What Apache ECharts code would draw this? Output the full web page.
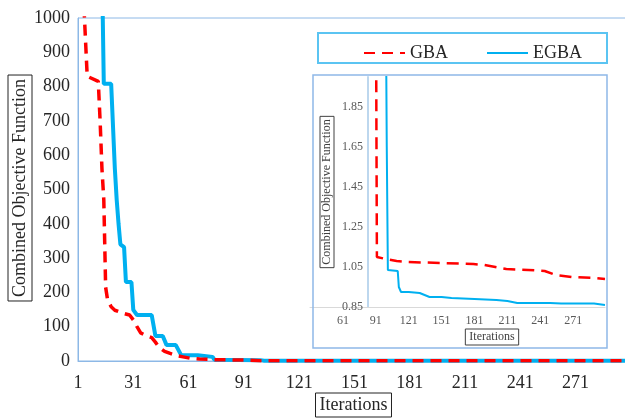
<!DOCTYPE html>
<html>
<head>
<meta charset="utf-8">
<script src="https://cdn.jsdelivr.net/npm/echarts@6/dist/echarts.min.js"></script>
<style>
  html, body { margin:0; padding:0; background:#fff; }
  #chart { width:625px; height:419px; }
</style>
</head>
<body>
<div id="chart"></div>
<script>
// ---------- data ----------
const gbaIter = [1, 6, 12, 13, 14, 15, 16, 17, 19, 21, 25, 29, 31, 33, 35, 38, 41, 43, 45, 48, 51, 55, 58, 62, 67, 75, 87, 91,
  92, 100, 110, 120, 150, 180, 190, 200, 210, 230, 245, 255, 270, 290, 300];
const gbaVal = [1400, 830, 815, 700, 560, 470, 215, 180, 158, 148, 140, 134, 120, 100, 82, 74, 68, 55, 40, 28, 22, 15, 12, 8, 6, 4, 3, 2.6,
  1.10, 1.09, 1.08, 1.075, 1.07, 1.065, 1.06, 1.05, 1.04, 1.035, 1.03, 1.01, 1.0, 0.995, 0.99];

const egbaIter = [1, 13, 15, 19, 21, 22, 23, 24, 26, 27, 30, 31, 33, 41, 43, 47, 49, 54, 57, 66, 74, 75, 88, 100,
  101, 102, 111, 112, 114, 121, 131, 140, 151, 160, 181, 201, 211, 220, 250, 260, 290, 300];
const egbaVal = [3000, 1500, 808, 808, 560, 470, 400, 340, 332, 230, 230, 149, 134, 134, 73, 73, 47, 47, 17, 17, 12, 4, 3.2, 2.5,
  1.65, 1.035, 1.03, 0.95, 0.925, 0.925, 0.92, 0.90, 0.90, 0.895, 0.89, 0.885, 0.88, 0.87, 0.87, 0.868, 0.867, 0.86];

const mainXTicks = { min: 1, max: 300, interval: 30 };
const mainYTicks = { min: 0, max: 1000, interval: 100 };
const insetXTicks = { min: 31, max: 300, interval: 30 };
const insetYTicks = { min: 0.85, max: 2.0, interval: 0.2 };

// ---------- helpers ----------
const pairs = (xs, ys) => xs.map((x, i) => [x, ys[i]]);
const RED = '#ff0000', BLUE = '#00b0f0';
const SERIF = 'Liberation Serif';
const TXT = '#262626';

const chart = echarts.init(document.getElementById('chart'), null, { renderer: 'canvas' });

chart.setOption({
  animation: false,
  textStyle: { fontFamily: SERIF },
  legend: {
    left: 358, top: 39,
    itemWidth: 41, itemHeight: 14, itemGap: 38,
    itemStyle: { opacity: 0 },
    textStyle: { fontFamily: SERIF, fontSize: 18, color: TXT },
    data: ['GBA', 'EGBA']
  },
  grid: [
    { left: 78, top: 18, right: -4, bottom: 58, outerBoundsMode: 'none', containLabel: false,
      show: true, borderColor: '#8db8e6', borderWidth: 1 },
    { left: 310, top: 77, right: 20, bottom: 112, outerBoundsMode: 'none', containLabel: false }
  ],
  xAxis: [
    {
      type: 'value', gridIndex: 0, ...mainXTicks,
      splitLine: { show: false }, axisTick: { show: false },
      axisLine: { lineStyle: { color: '#8db8e6' } },
      axisLabel: { fontFamily: SERIF, fontSize: 18, color: TXT, margin: 13, showMaxLabel: false },
      name: 'Iterations', nameLocation: 'middle', nameGap: 32, nameMoveOverlap: false,
      nameTextStyle: { fontFamily: SERIF, fontSize: 18, color: TXT, borderColor: '#222', borderWidth: 1, padding: [3, 4, 3, 4] }
    },
    {
      type: 'value', gridIndex: 1, ...insetXTicks,
      splitLine: { show: false }, axisTick: { show: false },
      axisLine: { lineStyle: { color: '#d9d9d9', width: 1 } },
      axisLabel: { fontFamily: SERIF, fontSize: 12, color: '#595959', margin: 8, showMinLabel: false, showMaxLabel: false }
    }
  ],
  yAxis: [
    {
      type: 'value', gridIndex: 0, ...mainYTicks,
      splitLine: { show: false }, axisTick: { show: false },
      axisLine: { show: true, lineStyle: { color: '#8db8e6' } },
      axisLabel: { fontFamily: SERIF, fontSize: 18, color: TXT, margin: 8, formatter: v => String(v) }
    },
    {
      type: 'value', gridIndex: 1, ...insetYTicks, offset: -58,
      splitLine: { show: false }, axisTick: { show: false },
      axisLine: { show: true, lineStyle: { color: '#bdd7ee', width: 2 } },
      axisLabel: { fontFamily: SERIF, fontSize: 12, color: '#595959', margin: 5, showMaxLabel: false,
        formatter: v => v.toFixed(2) },
      name: 'Combined Objective Function', nameLocation: 'middle', nameGap: 34, nameMoveOverlap: false,
      nameTextStyle: { fontFamily: SERIF, fontSize: 12, color: '#404040', borderColor: '#404040', borderWidth: 1, padding: [1, 3, 1, 3] }
    }
  ],
  graphic: [
    { type: 'rect', shape: { x: 318, y: 33, width: 289, height: 30 }, style: { fill: 'none', stroke: '#5bc4f2', lineWidth: 2 }, z: 1 },
    { type: 'rect', shape: { x: 313, y: 75, width: 294, height: 273 }, style: { fill: 'none', stroke: '#8fb8e8', lineWidth: 1.5 }, z: 1 },
    // main y title, boxed and turned
    { type: 'text', x: 20, y: 188, rotation: Math.PI / 2, z: 5,
      style: { text: 'Combined Objective Function', font: '18px "Liberation Serif"', fill: TXT, align: 'center', verticalAlign: 'middle',
        borderColor: '#222', borderWidth: 1, padding: [3, 4, 3, 4] } },
    { type: 'text', x: 492, y: 337, z: 5,
      style: { text: 'Iterations', font: '12px "Liberation Serif"', fill: '#404040', align: 'center', verticalAlign: 'middle',
        borderColor: '#404040', borderWidth: 1, padding: [2, 4, 2, 4] } }
  ],
  series: [
    { name: 'GBA', type: 'line', xAxisIndex: 0, yAxisIndex: 0, symbol: 'none', data: pairs(gbaIter, gbaVal),
      lineStyle: { color: RED, width: 3.5, type: [11, 7] }, itemStyle: { color: RED }, z: 3 },
    { name: 'EGBA', type: 'line', xAxisIndex: 0, yAxisIndex: 0, symbol: 'none', data: pairs(egbaIter, egbaVal),
      lineStyle: { color: BLUE, width: 4 }, itemStyle: { color: BLUE }, z: 2 },
    { name: 'GBA', type: 'line', xAxisIndex: 1, yAxisIndex: 1, symbol: 'none', data: pairs(gbaIter, gbaVal),
      lineStyle: { color: RED, width: 2.5, type: [12, 7] }, itemStyle: { color: RED }, z: 3 },
    { name: 'EGBA', type: 'line', xAxisIndex: 1, yAxisIndex: 1, symbol: 'none', data: pairs(egbaIter, egbaVal),
      lineStyle: { color: BLUE, width: 2 }, itemStyle: { color: BLUE }, z: 2 }
  ]
});

window.addEventListener('resize', () => chart.resize());
</script>
</body>
</html>
